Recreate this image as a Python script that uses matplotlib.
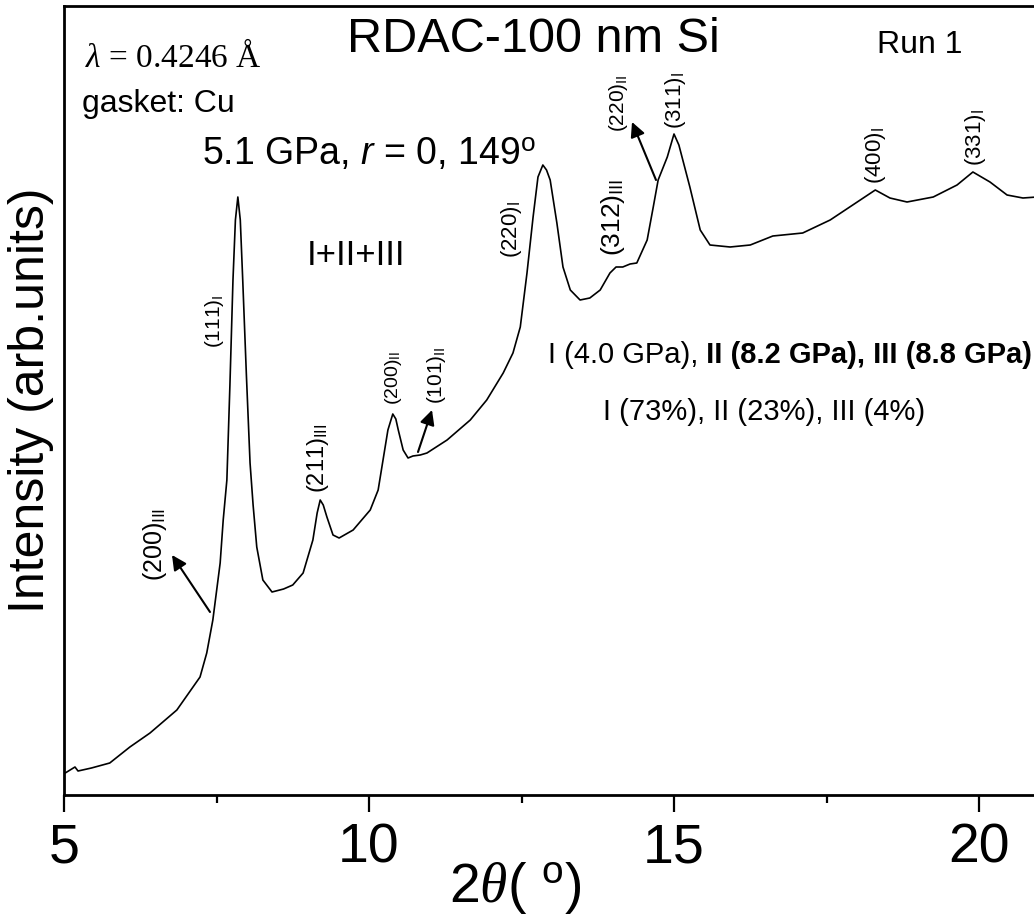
import matplotlib
matplotlib.use("Agg")
import matplotlib.pyplot as plt

plt.rcParams['font.family'] = ['Liberation Sans', 'DejaVu Sans']
plt.rcParams['mathtext.fontset'] = 'custom'
plt.rcParams['mathtext.rm'] = 'Liberation Sans'
plt.rcParams['mathtext.it'] = 'Liberation Serif:italic'
plt.rcParams['mathtext.sf'] = 'Liberation Sans:italic'
plt.rcParams['mathtext.bf'] = 'Liberation Sans:bold'

# XRD pattern, 2-theta (deg) vs intensity (arb. units)
two_theta = [5.02, 5.18, 5.23, 5.45, 5.75, 6.08, 6.41, 6.85, 7.23, 7.34, 7.44,
             7.56, 7.61, 7.67, 7.72, 7.77, 7.81, 7.85, 7.89, 7.93, 7.99, 8.05,
             8.10, 8.16, 8.26, 8.41, 8.60, 8.75, 8.92, 9.08, 9.15, 9.20, 9.25,
             9.31, 9.41, 9.51, 9.74, 10.02, 10.15, 10.23, 10.31, 10.39, 10.44,
             10.48, 10.56, 10.64, 10.72, 10.84, 10.95, 11.28, 11.66, 11.93,
             12.20, 12.36, 12.48, 12.59, 12.69, 12.77, 12.85, 12.91, 12.97,
             13.08, 13.18, 13.30, 13.46, 13.62, 13.79, 13.95, 14.05, 14.16,
             14.28, 14.39, 14.56, 14.66, 14.74, 14.89, 15.00, 15.08, 15.26,
             15.43, 15.59, 15.92, 16.25, 16.62, 17.11, 17.56, 17.93, 18.30,
             18.54, 18.82, 19.25, 19.64, 19.90, 20.18, 20.46, 20.72, 20.95]
intensity = [220, 280, 240, 270, 320, 480, 620, 850, 1180, 1420, 1750,
             2320, 2750, 3150, 4100, 5150, 5750, 5980, 5750, 5150, 4200, 3320,
             2900, 2480, 2150, 2030, 2060, 2100, 2220, 2550, 2820, 2950, 2900,
             2780, 2600, 2570, 2650, 2850, 3050, 3350, 3650, 3810, 3760,
             3650, 3450, 3370, 3390, 3400, 3420, 3550, 3750, 3950,
             4220, 4420, 4680, 5220, 5780, 6180, 6300, 6250, 6150,
             5720, 5280, 5050, 4950, 4970, 5050, 5220, 5280, 5280,
             5310, 5320, 5550, 5880, 6150, 6380, 6610, 6500, 6080,
             5650, 5500, 5480, 5500, 5590, 5620, 5750, 5900, 6050,
             5970, 5930, 5980, 6100, 6230, 6130, 6000, 5970, 5980]

major_ticks = [5, 10, 15, 20]
minor_ticks = [7.5, 12.5, 17.5]

# reflection labels: (hkl, phase)
peak_labels = [("(200)", "III"), ("(111)", "I"), ("(211)", "III"),
               ("(200)", "II"), ("(101)", "II"), ("(220)", "I"),
               ("(312)", "III"), ("(220)", "II"), ("(311)", "I"),
               ("(400)", "I"), ("(331)", "I")]

W, H = 1034, 918
fig = plt.figure(figsize=(W / 100, H / 100), dpi=100)


def fpos(x, y):
    return (x / W, 1 - y / H)


ax = fig.add_axes([64 / W, 1 - 795 / H, (1070.5 - 64) / W, (795 - 6) / H])
ax.plot(two_theta, intensity, color='black', lw=1.2)
ax.set_xlim(5, 21.5)
ax.set_ylim(0, 7890)
ax.spines['right'].set_visible(False)
for s in ['left', 'bottom', 'top']:
    ax.spines[s].set_linewidth(2.0)
ax.set_xticks(major_ticks)
ax.set_xticks(minor_ticks, minor=True)
ax.set_yticks([])
ax.tick_params(axis='x', which='major', direction='out', length=12,
               width=1.6, labelsize=40, pad=8)
ax.tick_params(axis='x', which='minor', direction='out', length=6, width=1.6)

# axis labels
fig.text(*fpos(31, 400), "Intensity (arb.units)", rotation=90,
         ha='center', va='center', fontsize=36)
fig.text(*fpos(515, 888), r"2$\theta$( $^\mathregular{o}$)",
         ha='center', va='center', fontsize=40)

# header texts
fig.text(*fpos(347, 52), "RDAC-100 nm Si", fontsize=35, va='baseline')
fig.text(*fpos(877, 53), "Run 1", fontsize=23, va='baseline')
fig.text(*fpos(85, 67), r"$\lambda$ = 0.4246 Å", fontsize=24,
         va='baseline', family='Liberation Serif')
fig.text(*fpos(82, 112), "gasket: Cu", fontsize=23, va='baseline')
fig.text(*fpos(202, 165), r"5.1 GPa, $\mathsf{r}$ = 0, 149$^\mathregular{o}$",
         fontsize=27, va='baseline')
fig.text(*fpos(307, 265), "I+II+III", fontsize=25, va='baseline')

t1 = fig.text(*fpos(548, 363), "I (4.0 GPa),", fontsize=21, va='baseline')
fig.canvas.draw()
bb = t1.get_window_extent(renderer=fig.canvas.get_renderer())
fig.text(bb.x1 / W, 1 - 363 / H, " II (8.2 GPa), III (8.8 GPa)",
         fontsize=21, va='baseline', fontweight='bold')
fig.text(*fpos(603, 420), "I (73%), II (23%), III (4%)", fontsize=21,
         va='baseline')

# rotated reflection labels
label_pos = [(155, 545, 18), (214, 321, 15), (318, 458, 17), (393, 378, 14),
             (437, 375, 15), (512, 230, 16), (613, 218, 19), (618, 103, 15),
             (675, 101, 16), (875, 156, 16), (975, 138, 16)]
for (hkl, ph), (x, y, fs) in zip(peak_labels, label_pos):
    fig.text(*fpos(x, y), hkl + r"$_\mathregular{" + ph + "}$", rotation=90,
             ha='center', va='center', fontsize=fs)

# arrows pointing to weak reflections
arrows = [((210, 612), (172, 555)), ((418, 452), (432, 410)),
          ((656, 180), (632, 122))]
for tail, head in arrows:
    ax.annotate('', xy=fpos(*head), xytext=fpos(*tail),
                xycoords='figure fraction', textcoords='figure fraction',
                arrowprops=dict(arrowstyle='-|>', color='black', lw=1.5,
                                mutation_scale=22, shrinkA=0, shrinkB=0))

fig.savefig("out.png", dpi=100)
